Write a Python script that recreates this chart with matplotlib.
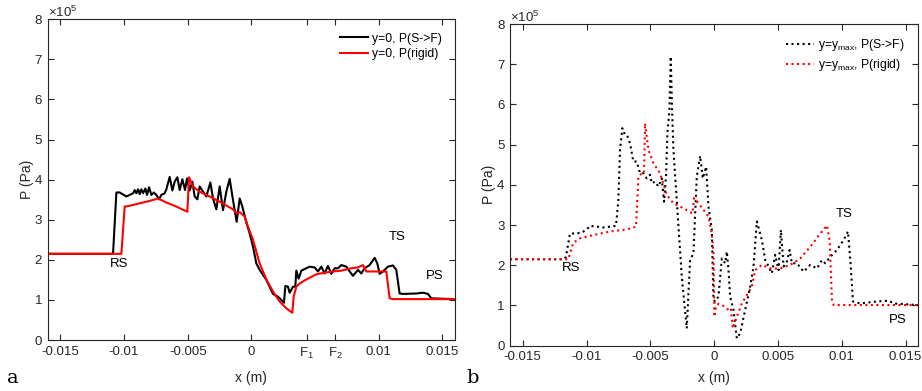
import matplotlib
matplotlib.use("Agg")
import matplotlib.pyplot as plt

# ---- panel a: pressure along y = 0 (units of 1e5 Pa) ----
xa_sf = [-0.016, -0.010864, -0.010602, -0.010340, -0.009817, -0.009293, -0.009162, -0.009031,
         -0.008901, -0.008770, -0.008639, -0.008508, -0.008325, -0.008194, -0.008037, -0.007853,
         -0.007670, -0.007461, -0.007251, -0.007068, -0.006806, -0.006675, -0.006414, -0.006204,
         -0.006021, -0.005812, -0.005628, -0.005419, -0.005209, -0.005052, -0.004843, -0.004633,
         -0.004450, -0.004241, -0.004058, -0.003796, -0.003534, -0.003220, -0.003010, -0.002749,
         -0.002487, -0.002225, -0.001963, -0.001702, -0.001440, -0.001152, -0.000916, -0.000707,
         -0.000393, -0.000131, 0.000131, 0.000393, 0.000654, 0.001178, 0.001702, 0.002094,
         0.002565, 0.002670, 0.002880, 0.003010, 0.003272, 0.003455, 0.003534, 0.003717,
         0.003927, 0.004188, 0.004581, 0.004974, 0.005236, 0.005497, 0.005759, 0.006021,
         0.006283, 0.006545, 0.006806, 0.007068, 0.007461, 0.007723, 0.007984, 0.008377,
         0.008639, 0.008901, 0.009293, 0.009686, 0.009895, 0.010079, 0.010340, 0.010733,
         0.011126, 0.011387, 0.011649, 0.011911, 0.012958, 0.013482, 0.013874, 0.014136, 0.016]
pa_sf = [2.15, 2.15, 3.68, 3.68, 3.58, 3.66, 3.74, 3.66,
         3.76, 3.64, 3.76, 3.66, 3.78, 3.62, 3.81, 3.62,
         3.68, 3.62, 3.51, 3.62, 3.66, 3.76, 4.07, 3.73,
         3.95, 4.06, 3.74, 4.01, 3.74, 4.03, 3.73, 3.95,
         3.58, 3.51, 3.83, 3.70, 3.58, 3.93, 3.53, 3.26,
         3.83, 3.24, 3.70, 4.02, 3.49, 2.95, 3.53, 3.33,
         2.93, 2.66, 2.33, 1.91, 1.75, 1.50, 1.15, 1.08,
         0.93, 1.35, 1.33, 1.18, 1.33, 1.33, 1.73, 1.53,
         1.73, 1.77, 1.83, 1.81, 1.71, 1.83, 1.66, 1.85,
         1.65, 1.79, 1.79, 1.87, 1.83, 1.71, 1.60, 1.75,
         1.66, 1.79, 1.87, 2.05, 1.91, 1.65, 1.71, 1.83,
         1.86, 1.75, 1.16, 1.15, 1.16, 1.18, 1.15, 1.04, 1.02]

xa_rg = [-0.016, -0.010209, -0.009948, -0.009686, -0.009293, -0.008770, -0.007984, -0.007330,
         -0.006675, -0.005890, -0.005026, -0.004895, -0.004581, -0.004058, -0.003272, -0.002487,
         -0.001440, -0.001126, -0.000916, -0.000524, -0.000262, 0.000131, 0.000654, 0.001178,
         0.001702, 0.002225, 0.002749, 0.003220, 0.003325, 0.003534, 0.003796, 0.004319,
         0.005105, 0.005759, 0.006414, 0.007068, 0.007853, 0.008377, 0.008770, 0.009031,
         0.009555, 0.010602, 0.010864, 0.011126, 0.016]
pa_rg = [2.15, 2.15, 3.33, 3.34, 3.37, 3.41, 3.47, 3.53,
         3.43, 3.33, 3.20, 4.06, 3.83, 3.70, 3.58, 3.45,
         3.26, 3.16, 3.19, 3.08, 2.83, 2.50, 1.91, 1.51,
         1.21, 0.96, 0.79, 0.68, 1.08, 1.33, 1.41, 1.51,
         1.64, 1.68, 1.71, 1.73, 1.79, 1.81, 1.87, 1.71,
         1.71, 1.71, 1.04, 1.02, 1.02]

# ---- panel b: pressure along y = y_max (units of 1e5 Pa) ----
xb_sf = [-0.016, -0.011770, -0.011613, -0.011299, -0.010907, -0.010384, -0.009991, -0.009730,
         -0.009207, -0.008683, -0.008160, -0.007690, -0.007506, -0.007376, -0.007193, -0.006983,
         -0.006800, -0.006591, -0.006330, -0.006068, -0.005806, -0.005545, -0.005283, -0.005022,
         -0.004891, -0.004629, -0.004368, -0.004106, -0.003923, -0.003766, -0.003662, -0.003505,
         -0.003400, -0.003296, -0.003191, -0.002929, -0.002537, -0.002145, -0.001883, -0.001622,
         -0.001360, -0.001099, -0.000889, -0.000628, -0.000445, -0.000183, -0.000052, 0.000078,
         0.000340, 0.000602, 0.000863, 0.000994, 0.001125, 0.001255, 0.001517, 0.001779,
         0.002040, 0.002432, 0.002825, 0.003086, 0.003348, 0.003609, 0.003740, 0.004002,
         0.004263, 0.004525, 0.004786, 0.005048, 0.005231, 0.005440, 0.005702, 0.005911,
         0.006094, 0.006486, 0.007010, 0.007533, 0.008056, 0.008448, 0.008710, 0.009102,
         0.009625, 0.010148, 0.010488, 0.010671, 0.010880, 0.011456, 0.012764, 0.013679,
         0.014071, 0.016]
pb_sf = [2.15, 2.15, 2.21, 2.79, 2.79, 2.81, 2.89, 2.98,
         2.96, 2.94, 2.96, 2.98, 3.62, 4.87, 5.41, 5.24,
         5.22, 5.03, 4.58, 4.58, 4.29, 4.29, 4.16, 4.25,
         4.04, 4.08, 3.96, 4.16, 3.58, 4.25, 5.28, 5.86,
         7.19, 5.86, 4.87, 3.62, 1.72, 0.43, 2.13, 2.30,
         4.20, 4.72, 4.16, 4.45, 3.46, 2.88, 1.14, 1.10,
         1.22, 2.17, 2.05, 2.34, 1.88, 1.22, 0.89, 0.18,
         0.31, 0.89, 1.47, 1.97, 3.09, 2.79, 2.63, 2.13,
         1.97, 1.80, 2.26, 1.88, 2.88, 1.97, 2.09, 2.38,
         2.05, 2.05, 1.84, 2.01, 1.92, 2.13, 2.05, 2.21,
         2.38, 2.63, 2.84, 2.13, 1.10, 1.05, 1.10, 1.12,
         1.05, 1.01]

xb_rg = [-0.016, -0.011430, -0.011037, -0.010514, -0.009468, -0.008160, -0.006853, -0.006120,
         -0.005937, -0.005676, -0.005493, -0.005414, -0.005153, -0.004760, -0.004237, -0.003923,
         -0.003714, -0.003191, -0.002406, -0.001700, -0.001569, -0.001229, -0.000837, -0.000445,
         -0.000183, -0.000052, 0.000026, 0.000131, 0.000340, 0.000732, 0.001125, 0.001308,
         0.001465, 0.001779, 0.002171, 0.002563, 0.002956, 0.003217, 0.003740, 0.004394,
         0.005179, 0.005963, 0.006748, 0.007533, 0.008317, 0.008840, 0.009050, 0.009233,
         0.009364, 0.016]
pb_rg = [2.15, 2.15, 2.56, 2.67, 2.75, 2.84, 2.89, 2.96,
         4.20, 4.29, 4.29, 5.53, 4.87, 4.54, 4.29, 3.96,
         3.75, 3.54, 3.42, 3.29, 3.67, 3.54, 3.38, 3.21,
         2.79, 2.30, 0.72, 0.97, 1.04, 0.99, 0.89, 0.93,
         0.43, 0.72, 1.05, 1.26, 1.47, 1.88, 2.01, 1.92,
         1.92, 2.01, 2.17, 2.46, 2.79, 2.99, 2.63, 1.14,
         1.01, 1.01]

ticks_a = [-0.015, -0.01, -0.005, 0, 0.00437, 0.0066, 0.01, 0.015]
ticklabels_a = ["-0.015", "-0.01", "-0.005", "0", "F$_1$", "F$_2$", "0.01", "0.015"]
ticks_b = [-0.015, -0.01, -0.005, 0, 0.005, 0.01, 0.015]
ticklabels_b = ["-0.015", "-0.01", "-0.005", "0", "0.005", "0.01", "0.015"]
yticks = [0, 1, 2, 3, 4, 5, 6, 7, 8]

plt.rcParams["font.family"] = ["Liberation Sans", "DejaVu Sans"]
plt.rcParams["mathtext.fontset"] = "custom"
plt.rcParams["mathtext.rm"] = "Liberation Sans"
plt.rcParams["mathtext.it"] = "Liberation Sans"
AXC = "#262626"

fig = plt.figure(figsize=(9.22, 3.91), dpi=100)
ax_a = fig.add_axes([0.0517, 0.1304, 0.4418, 0.8202])
ax_b = fig.add_axes([0.5531, 0.1159, 0.4429, 0.8227])


def style(ax, xt, xtl, xlab_y):
    ax.set_xlim(-0.016, 0.016)
    ax.set_ylim(0, 8)
    ax.set_xticks(xt)
    ax.set_xticklabels(xtl)
    ax.set_yticks(yticks)
    ax.set_yticklabels([str(v) for v in yticks])
    ax.tick_params(direction="in", length=4, width=0.8, top=True, right=True,
                   labelsize=9.5, colors=AXC, pad=4)
    for s in ax.spines.values():
        s.set_color(AXC)
        s.set_linewidth(0.8)
    ax.set_xlabel("x (m)", fontsize=10, color=AXC)
    ax.xaxis.set_label_coords(0.5, xlab_y)
    ax.set_ylabel("P (Pa)", fontsize=10, color=AXC, labelpad=0.5)
    ax.text(0.0, 0.998, r"$\times$10$^5$", transform=ax.transAxes, fontsize=9.5,
            color=AXC, ha="left", va="bottom")


def legend(ax):
    ax.legend(loc="upper right", frameon=False, fontsize=8.7, handlelength=2.3,
              handletextpad=0.35, borderaxespad=0.7, labelspacing=0.3)


# panel a
ax_a.plot(xa_sf, pa_sf, color="black", lw=1.5, solid_joinstyle="round",
          label="y=0, P(S->F)")
ax_a.plot(xa_rg, pa_rg, color="#ff0000", lw=1.5, solid_joinstyle="round",
          label="y=0, P(rigid)")
style(ax_a, ticks_a, ticklabels_a, -0.097)
legend(ax_a)
ax_a.text(-0.01039, 1.89, "RS", fontsize=9.5, ha="center", va="center")
ax_a.text(0.011466, 2.56, "TS", fontsize=9.5, ha="center", va="center")
ax_a.text(0.014398, 1.60, "PS", fontsize=9.5, ha="center", va="center")

# panel b
ax_b.plot(xb_sf, pb_sf, color="black", lw=1.5, ls=":", label="y=y$_{max}$, P(S->F)")
ax_b.plot(xb_rg, pb_rg, color="#ff0000", lw=1.5, ls=":", label="y=y$_{max}$, P(rigid)")
style(ax_b, ticks_b, ticklabels_b, -0.079)
legend(ax_b)
ax_b.text(-0.011168, 1.92, "RS", fontsize=9.5, ha="center", va="center")
ax_b.text(0.010227, 3.275, "TS", fontsize=9.5, ha="center", va="center")
ax_b.text(0.014385, 0.64, "PS", fontsize=9.5, ha="center", va="center")

# panel letters
fig.text(13 / 922, 1 - 378 / 391, "a", family="DejaVu Serif", fontsize=14,
         ha="center", va="center")
fig.text(473 / 922, 1 - 378 / 391, "b", family="DejaVu Serif", fontsize=14,
         ha="center", va="center")

fig.savefig("out.png", dpi=100)
